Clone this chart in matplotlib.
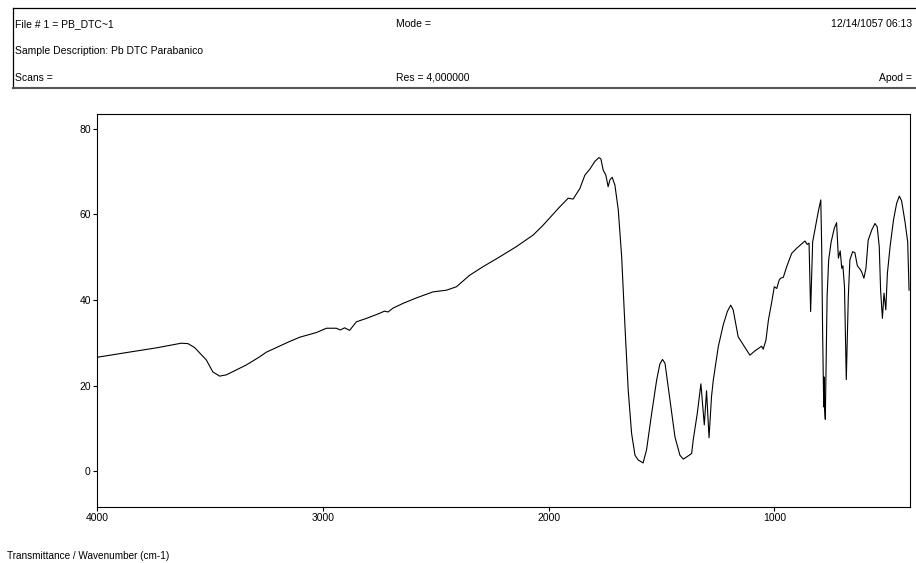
import matplotlib.pyplot as plt
from matplotlib.lines import Line2D
import numpy as np

plt.rcParams['font.family'] = ['Liberation Sans', 'DejaVu Sans']

# IR spectrum, wavenumber (cm-1) vs transmittance
wavenumber = [4000, 3871, 3738, 3627, 3597, 3568, 3516, 3487, 3457, 3427,
              3339, 3280, 3250, 3147, 3102, 3028, 2984, 2940, 2922, 2903,
              2881, 2851, 2807, 2762, 2726, 2711, 2689, 2645, 2585, 2512,
              2452, 2408, 2349, 2290, 2216, 2142, 2068, 2024, 1950, 1913,
              1891, 1861, 1839, 1817, 1795, 1777, 1768, 1758, 1746, 1736,
              1728, 1718, 1706, 1691, 1676, 1662, 1647, 1632, 1617, 1603,
              1581, 1566, 1543, 1521, 1507, 1495, 1484, 1462, 1440, 1418,
              1403, 1388, 1366, 1359, 1341, 1325, 1310, 1300, 1289, 1278,
              1270, 1248, 1226, 1208, 1193, 1182, 1160, 1137, 1108, 1086,
              1056, 1049, 1037, 1026, 1011, 1000, 989, 978, 972, 960,
              945, 923, 901, 871, 864, 854, 846, 839, 830, 820,
              805, 794, 790, 786, 781, 779, 777, 774, 766, 759,
              748, 734, 724, 716, 708, 701, 696, 689, 681, 672,
              665, 653, 643, 632, 620, 613, 603, 594, 584, 568,
              554, 544, 535, 529, 521, 514, 506, 499, 487, 472,
              458, 446, 436, 421, 409, 403]
transmittance = [26.6, 27.7, 28.8, 29.9, 29.8, 28.9, 26.0, 23.2, 22.2, 22.5,
                 24.8, 26.7, 27.8, 30.3, 31.3, 32.4, 33.4, 33.4, 33.0, 33.5,
                 32.9, 34.9, 35.7, 36.6, 37.4, 37.2, 38.1, 39.2, 40.5, 41.9,
                 42.3, 43.1, 45.8, 47.8, 50.1, 52.5, 55.2, 57.5, 61.8, 63.8,
                 63.6, 66.1, 69.2, 70.6, 72.4, 73.3, 73.0, 70.4, 69.2, 66.5,
                 68.1, 68.7, 66.9, 61.1, 50.1, 34.5, 18.9, 8.8, 3.7, 2.6,
                 1.9, 4.9, 13.5, 21.3, 25.0, 26.1, 25.2, 16.6, 8.0, 3.7,
                 2.8, 3.3, 4.1, 7.3, 13.5, 20.4, 10.8, 18.8, 7.8, 17.4,
                 21.3, 29.1, 34.2, 37.3, 38.8, 37.7, 31.4, 29.5, 27.1, 28.1,
                 29.2, 28.5, 30.6, 35.3, 39.6, 43.1, 42.7, 44.7, 45.1, 45.3,
                 47.8, 50.9, 52.1, 53.5, 53.8, 53.0, 53.3, 37.3, 53.6, 56.4,
                 60.7, 63.4, 52.5, 33.0, 15.0, 22.0, 14.7, 12.1, 40.8, 49.4,
                 53.6, 56.8, 58.1, 49.8, 51.5, 47.4, 48.0, 43.1, 21.4, 40.8,
                 49.4, 51.3, 51.1, 48.0, 47.2, 46.6, 45.1, 47.4, 54.0, 56.4,
                 57.9, 57.1, 52.5, 42.3, 35.7, 41.6, 37.7, 46.2, 52.5, 58.7,
                 62.6, 64.3, 63.2, 58.3, 53.6, 42.3]

x_ticks = [4000, 3000, 2000, 1000]
y_ticks = [0, 20, 40, 60, 80]

header_left = ['File # 1 = PB_DTC~1', 'Sample Description: Pb DTC Parabanico', 'Scans =']
header_mid = ['Mode =', '', 'Res = 4,000000']
header_right = ['12/14/1057 06:13', '', 'Apod =']

fig = plt.figure(figsize=(9.16, 5.63), dpi=100)
ax = fig.add_axes([0.1059, 0.0995, 0.8875, 0.698])

ax.plot(np.array(wavenumber), np.array(transmittance), color='black', lw=0.8)
ax.set_xlim(4000, 399)
ax.set_ylim(-8.4, 83.5)
ax.set_xticks(x_ticks)
ax.set_yticks(y_ticks)
ax.tick_params(length=3, width=0.8, labelsize=7.5, pad=1.5, color='black')
for s in ax.spines.values():
    s.set_linewidth(0.8)

# header box (open on the right)
x0, x1 = 13 / 916, 1.01
y0, y1 = 1 - 88 / 563, 1 - 7.5 / 563
fig.add_artist(Line2D([x0, x1], [y1, y1], transform=fig.transFigure, color='black', lw=0.9))
fig.add_artist(Line2D([x0, x0], [y0, y1], transform=fig.transFigure, color='black', lw=0.9))
fig.add_artist(Line2D([x0, x1], [y0, y0], transform=fig.transFigure, color='#555555', lw=1.5))

rows_y = [24, 51, 78]
for i, yy in enumerate(rows_y):
    fy = 1 - yy / 563
    fig.text(15 / 916, fy, header_left[i], fontsize=7.5, va='center', ha='left')
    fig.text(396 / 916, fy, header_mid[i], fontsize=7.5, va='center', ha='left')
    fig.text(912 / 916, fy, header_right[i], fontsize=7.5, va='center', ha='right')

fig.text(7 / 916, 1 - 556 / 563, 'Transmittance / Wavenumber (cm-1)', fontsize=7.2, va='center', ha='left')

fig.savefig('out.png', dpi=100)
